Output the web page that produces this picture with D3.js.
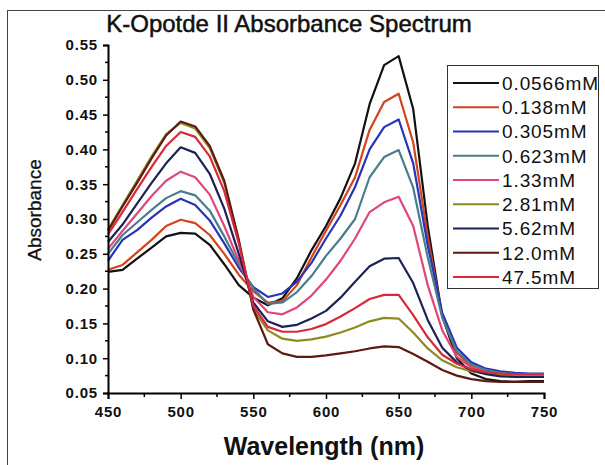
<!DOCTYPE html>
<html>
<head>
<meta charset="utf-8">
<script src="https://cdn.jsdelivr.net/npm/d3@7"></script>
<style>
  html, body { margin: 0; padding: 0; background: #fff; }
  svg { display: block; }
</style>
</head>
<body>
<svg id="chart" width="605" height="465"></svg>
<script>
// Wavelength grid (nm)
const wavelengths = [450, 460, 470, 480, 490, 500, 510, 520, 530, 540, 550, 560, 570, 580, 590,
                     600, 610, 620, 630, 640, 650, 660, 670, 680, 690, 700, 710, 720, 730, 740, 750];

// Concentration labels and their line colours
const concentrations = ["0.0566mM", "0.138mM", "0.305mM", "0.623mM", "1.33mM", "2.81mM", "5.62mM", "12.0mM", "47.5mM"];
const colors = ["#111111", "#d4421e", "#2634b8", "#4a7d8c", "#e0457b", "#8c8c1e", "#1c2256", "#5c1a12", "#d8283c"];

// Absorbance for each concentration
const abs0056 = [0.224, 0.227, 0.243, 0.259, 0.275, 0.280, 0.279, 0.263, 0.235, 0.205, 0.187, 0.176, 0.186, 0.215, 0.255,
                 0.290, 0.330, 0.380, 0.465, 0.521, 0.534, 0.458, 0.290, 0.160, 0.100, 0.078, 0.070, 0.067, 0.066, 0.067, 0.067];
const abs0138 = [0.227, 0.234, 0.252, 0.270, 0.290, 0.299, 0.294, 0.277, 0.250, 0.220, 0.196, 0.180, 0.182, 0.205, 0.245,
                 0.283, 0.320, 0.360, 0.428, 0.468, 0.480, 0.410, 0.275, 0.160, 0.108, 0.088, 0.080, 0.077, 0.076, 0.076, 0.075];
const abs0305 = [0.240, 0.270, 0.284, 0.302, 0.318, 0.329, 0.320, 0.298, 0.265, 0.230, 0.202, 0.188, 0.193, 0.210, 0.237,
                 0.272, 0.305, 0.346, 0.400, 0.432, 0.443, 0.380, 0.262, 0.165, 0.115, 0.094, 0.085, 0.081, 0.079, 0.078, 0.078];
const abs0623 = [0.250, 0.277, 0.295, 0.313, 0.330, 0.340, 0.334, 0.312, 0.275, 0.235, 0.200, 0.178, 0.180, 0.195, 0.218,
                 0.247, 0.272, 0.300, 0.360, 0.389, 0.399, 0.345, 0.245, 0.158, 0.110, 0.091, 0.083, 0.079, 0.077, 0.076, 0.076];
const abs133  = [0.257, 0.283, 0.308, 0.333, 0.355, 0.368, 0.360, 0.335, 0.290, 0.240, 0.188, 0.166, 0.163, 0.173, 0.190,
                 0.213, 0.240, 0.272, 0.310, 0.324, 0.332, 0.290, 0.205, 0.140, 0.102, 0.087, 0.080, 0.077, 0.076, 0.075, 0.075];
const abs281  = [0.285, 0.320, 0.355, 0.390, 0.422, 0.438, 0.430, 0.402, 0.352, 0.268, 0.170, 0.140, 0.128, 0.125, 0.127,
                 0.131, 0.137, 0.144, 0.153, 0.158, 0.157, 0.137, 0.114, 0.097, 0.087, 0.081, 0.078, 0.076, 0.075, 0.074, 0.074];
const abs562  = [0.267, 0.292, 0.322, 0.352, 0.380, 0.403, 0.395, 0.365, 0.315, 0.250, 0.180, 0.153, 0.145, 0.148, 0.157,
                 0.168, 0.187, 0.210, 0.232, 0.243, 0.244, 0.208, 0.155, 0.115, 0.094, 0.083, 0.077, 0.074, 0.073, 0.073, 0.073];
const abs120  = [0.283, 0.318, 0.352, 0.387, 0.420, 0.440, 0.433, 0.405, 0.355, 0.270, 0.170, 0.120, 0.107, 0.102, 0.102,
                 0.104, 0.107, 0.110, 0.114, 0.117, 0.116, 0.106, 0.095, 0.083, 0.075, 0.070, 0.067, 0.066, 0.066, 0.066, 0.066];
const abs475  = [0.278, 0.310, 0.343, 0.375, 0.405, 0.425, 0.418, 0.390, 0.340, 0.265, 0.175, 0.145, 0.138, 0.138, 0.142,
                 0.149, 0.160, 0.172, 0.185, 0.191, 0.191, 0.162, 0.130, 0.105, 0.092, 0.084, 0.080, 0.078, 0.077, 0.077, 0.077];

const seriesValues = [abs0056, abs0138, abs0305, abs0623, abs133, abs281, abs562, abs120, abs475];

// Axis ticks
const xTicks = [450, 500, 550, 600, 650, 700, 750];
const xMinorTicks = [475, 525, 575, 625, 675, 725];
const yTicks = [0.05, 0.10, 0.15, 0.20, 0.25, 0.30, 0.35, 0.40, 0.45, 0.50, 0.55];
const yMinorTicks = [0.075, 0.125, 0.175, 0.225, 0.275, 0.325, 0.375, 0.425, 0.475, 0.525];

const svg = d3.select("#chart");
const font = "'Liberation Sans', Arial, Helvetica, sans-serif";

// outer frame (runs off the right and bottom edges)
svg.append("rect")
  .attr("x", 7.5).attr("y", 10.5).attr("width", 605).attr("height", 460)
  .attr("fill", "none").attr("stroke", "#444").attr("stroke-width", 1);

const plot = { left: 108, right: 544, top: 45, bottom: 393 };

const x = d3.scaleLinear().domain([450, 750]).range([plot.left, plot.right]);
const y = d3.scaleLinear().domain([0.05, 0.55]).range([plot.bottom, plot.top]);

// spectra
const line = d3.line()
  .x((d, i) => x(wavelengths[i]))
  .y(d => y(d));

svg.append("g")
  .selectAll("path")
  .data(seriesValues)
  .join("path")
  .attr("d", d => line(d))
  .attr("fill", "none")
  .attr("stroke", (d, i) => colors[i])
  .attr("stroke-width", 2.2)
  .attr("stroke-linejoin", "round");

// x axis
const xAxis = svg.append("g")
  .attr("transform", `translate(0,${plot.bottom})`)
  .call(d3.axisBottom(x).tickValues(xTicks).tickSize(6).tickPadding(7).tickFormat(d3.format("d")));
xAxis.append("g").selectAll("line")
  .data(xMinorTicks).join("line")
  .attr("x1", d => x(d)).attr("x2", d => x(d))
  .attr("y1", 0).attr("y2", 4)
  .attr("stroke", "#000").attr("stroke-width", 1.5);

// y axis
const yAxis = svg.append("g")
  .attr("transform", `translate(${plot.left},0)`)
  .call(d3.axisLeft(y).tickValues(yTicks).tickSize(5).tickPadding(5).tickFormat(d3.format(".2f")));
yAxis.append("g").selectAll("line")
  .data(yMinorTicks).join("line")
  .attr("x1", 0).attr("x2", -3)
  .attr("y1", d => y(d)).attr("y2", d => y(d))
  .attr("stroke", "#000").attr("stroke-width", 1.5);

[xAxis, yAxis].forEach(g => {
  g.select(".domain").attr("stroke", "#000").attr("stroke-width", 2);
  g.selectAll(".tick line").attr("stroke", "#000").attr("stroke-width", 1.5);
  g.selectAll(".tick text")
    .attr("fill", "#111")
    .style("font-family", font)
    .style("font-size", "15px")
    .style("font-weight", "bold")
    .style("letter-spacing", "0.8px");
});

// title
svg.append("text")
  .attr("x", 289).attr("y", 32)
  .attr("text-anchor", "middle")
  .style("font-family", font)
  .style("font-size", "24px")
  .attr("fill", "#111")
  .attr("stroke", "#111")
  .attr("stroke-width", 0.5)
  .text("K-Opotde II Absorbance Spectrum");

// axis titles
svg.append("text")
  .attr("transform", "translate(41,210) rotate(-90)")
  .attr("text-anchor", "middle")
  .style("font-family", font)
  .style("font-size", "19px")
  .attr("fill", "#111")
  .attr("stroke", "#111")
  .attr("stroke-width", 0.3)
  .text("Absorbance");

svg.append("text")
  .attr("x", 324).attr("y", 455)
  .attr("text-anchor", "middle")
  .style("font-family", font)
  .style("font-size", "25px")
  .style("font-weight", "bold")
  .attr("fill", "#111")
  .text("Wavelength (nm)");

// legend
const legend = svg.append("g");
legend.append("rect")
  .attr("x", 447.5).attr("y", 65.5).attr("width", 151).attr("height", 223)
  .attr("fill", "#fff").attr("stroke", "#333").attr("stroke-width", 1);

const rows = legend.selectAll("g.row")
  .data(concentrations)
  .join("g")
  .attr("class", "row")
  .attr("transform", (d, i) => `translate(0,${83 + i * 24.25})`);

rows.append("line")
  .attr("x1", 453).attr("x2", 499)
  .attr("y1", 0).attr("y2", 0)
  .attr("stroke", (d, i) => colors[i])
  .attr("stroke-width", 2);

rows.append("text")
  .attr("x", 502).attr("y", 0)
  .attr("dy", "0.36em")
  .style("font-family", font)
  .style("font-size", "19px")
  .style("letter-spacing", "0.9px")
  .attr("fill", "#111")
  .text(d => d);
</script>
</body>
</html>
